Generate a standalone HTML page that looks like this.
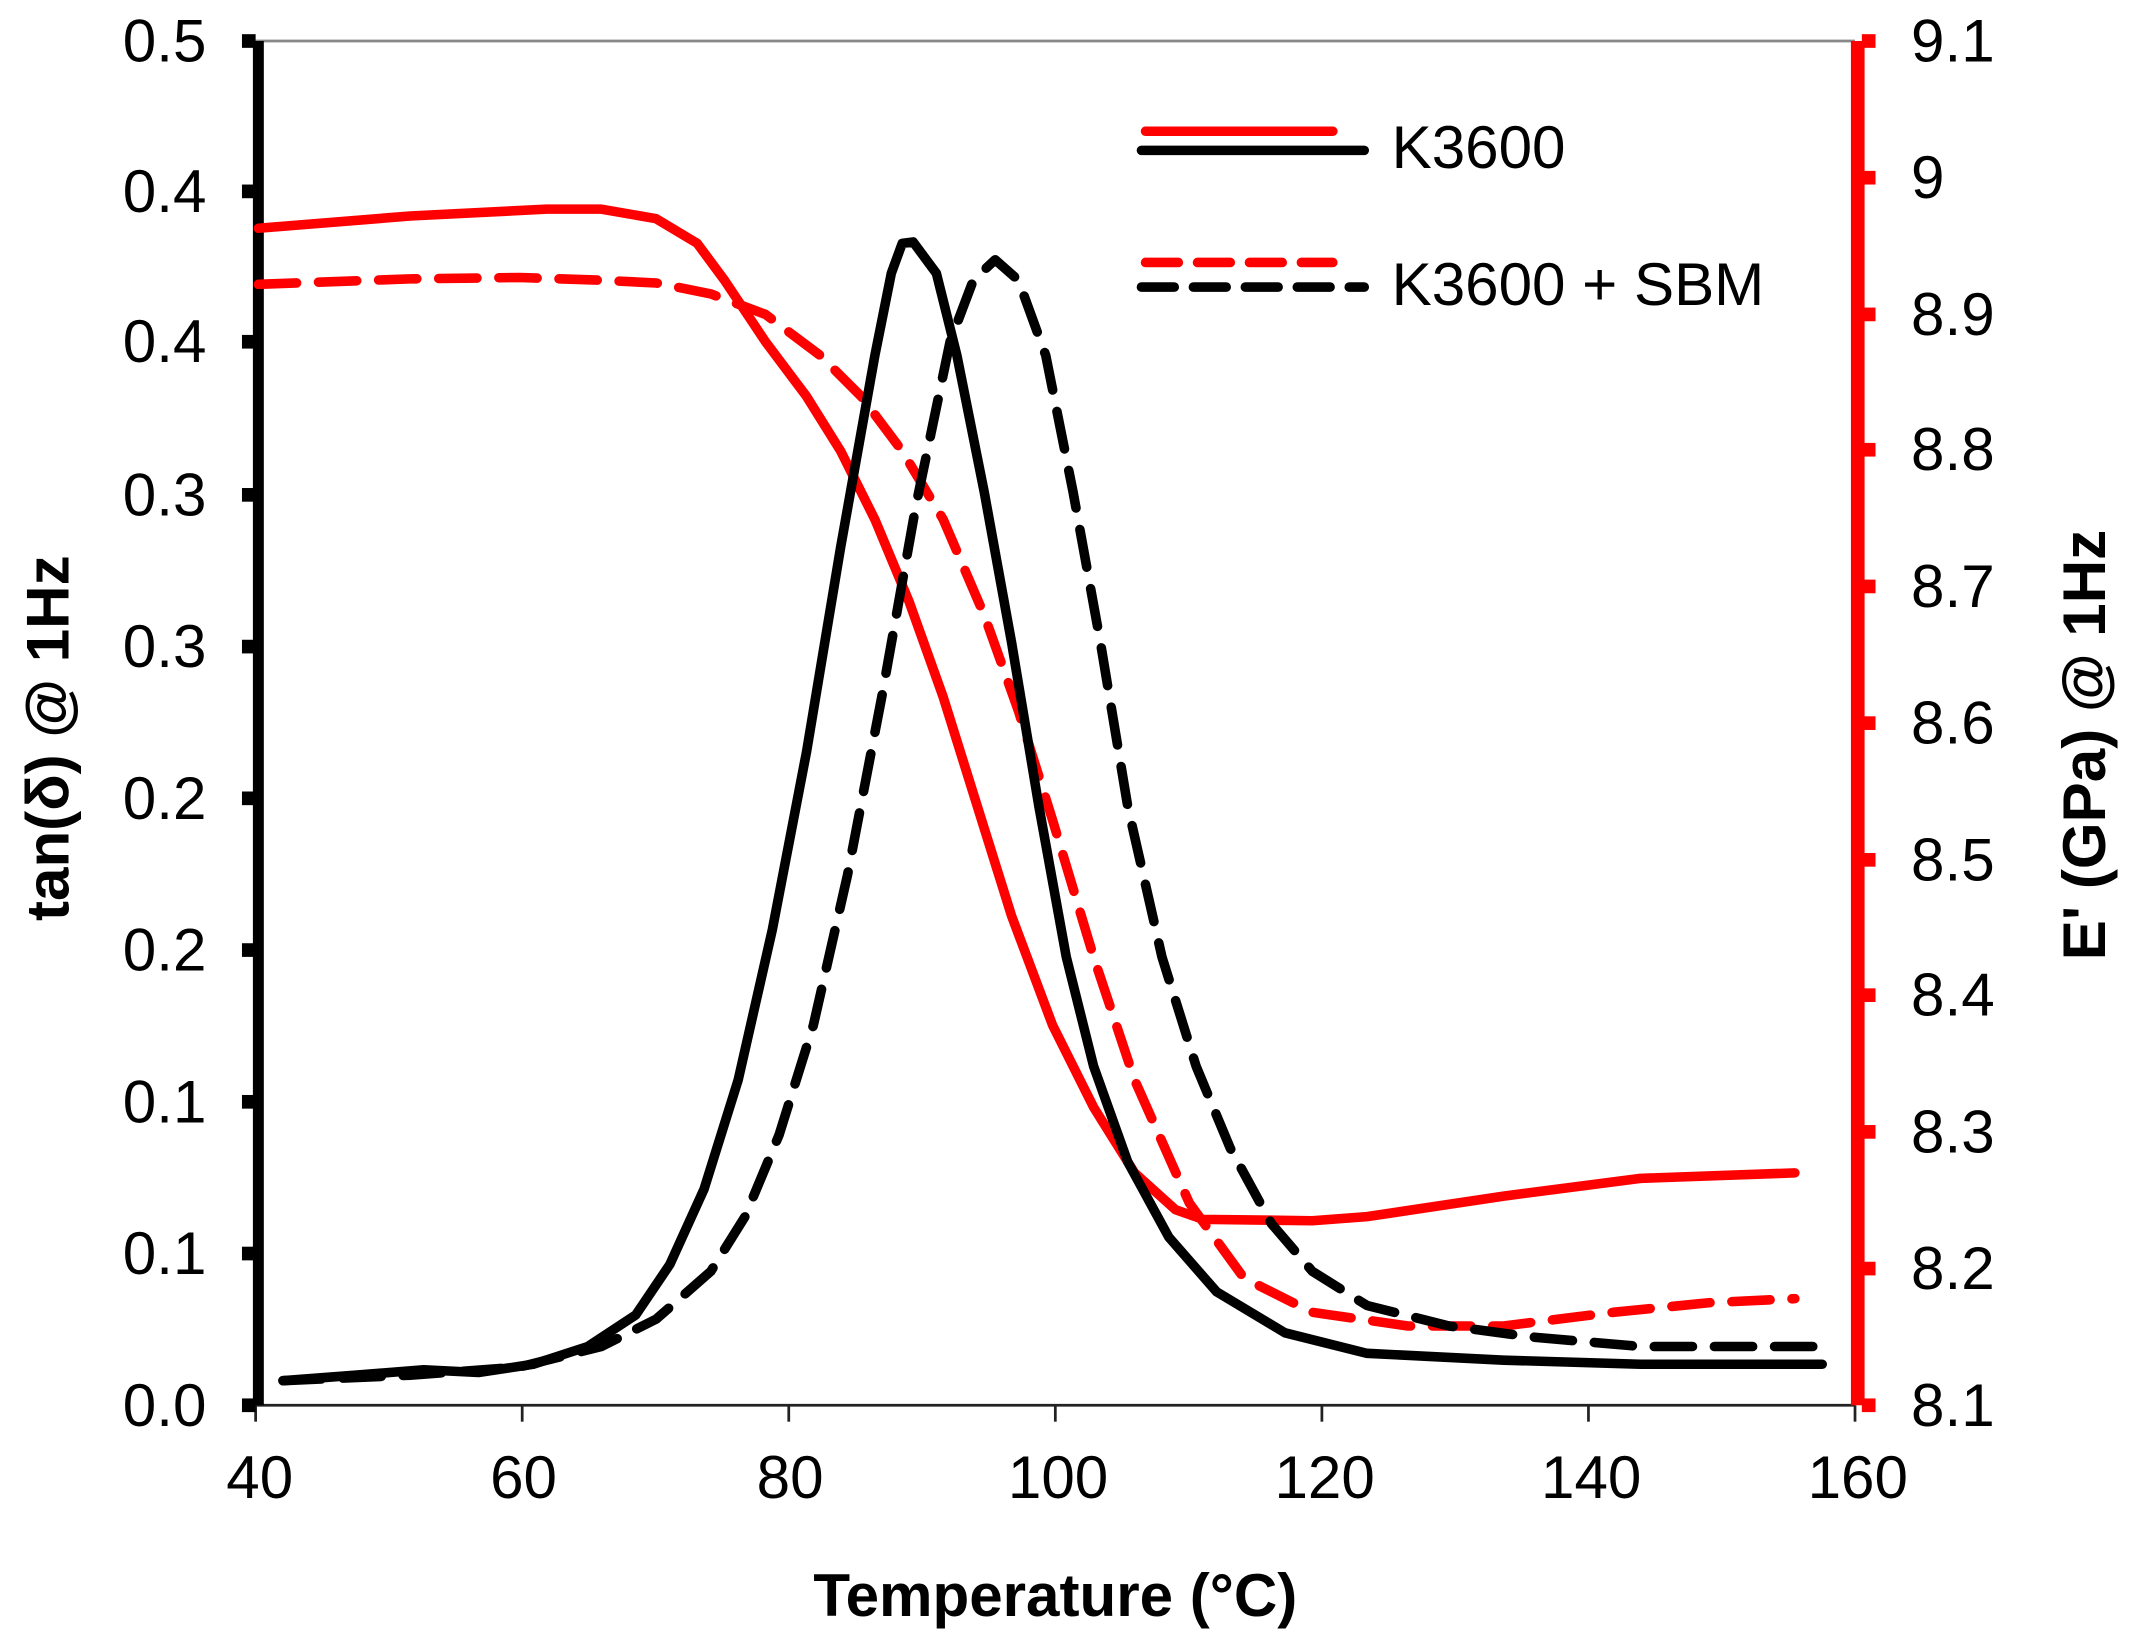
<!DOCTYPE html>
<html><head><meta charset="utf-8"><style>html,body{margin:0;padding:0;background:#fff}svg{display:block}</style></head>
<body>
<svg width="2136" height="1641" viewBox="0 0 2136 1641" xmlns="http://www.w3.org/2000/svg">
<g transform="scale(1.367)" font-family="Liberation Sans, Arial, sans-serif">
<rect x="0" y="0" width="1563" height="1201" fill="#fff"/>
<line x1="187" y1="30" x2="1357" y2="30" stroke="#888" stroke-width="2"/>
<line x1="187" y1="1028" x2="1357" y2="1028" stroke="#222" stroke-width="2"/>
<g stroke="#222" stroke-width="2">
<line x1="187" y1="1028" x2="187" y2="1040"/><line x1="382" y1="1028" x2="382" y2="1040"/>
<line x1="577" y1="1028" x2="577" y2="1040"/><line x1="772" y1="1028" x2="772" y2="1040"/>
<line x1="967" y1="1028" x2="967" y2="1040"/><line x1="1162" y1="1028" x2="1162" y2="1040"/>
<line x1="1357" y1="1028" x2="1357" y2="1040"/>
</g>
<line x1="189" y1="30" x2="189" y2="1028" stroke="#000" stroke-width="8"/>
<g fill="#000">
<rect x="177" y="25" width="10" height="10"/><rect x="177" y="135" width="10" height="10"/>
<rect x="177" y="245" width="10" height="10"/><rect x="177" y="357" width="10" height="10"/>
<rect x="177" y="468" width="10" height="10"/><rect x="177" y="579" width="10" height="10"/>
<rect x="177" y="690" width="10" height="10"/><rect x="177" y="801" width="10" height="10"/>
<rect x="177" y="912" width="10" height="10"/><rect x="177" y="1023" width="10" height="10"/>
</g>
<line x1="1359" y1="30" x2="1359" y2="1028" stroke="#f00" stroke-width="10"/>
<g fill="#f00">
<rect x="1362" y="25" width="10" height="10"/><rect x="1362" y="125" width="10" height="10"/>
<rect x="1362" y="225" width="10" height="10"/><rect x="1362" y="324" width="10" height="10"/>
<rect x="1362" y="424" width="10" height="10"/><rect x="1362" y="524" width="10" height="10"/>
<rect x="1362" y="624" width="10" height="10"/><rect x="1362" y="723" width="10" height="10"/>
<rect x="1362" y="823" width="10" height="10"/><rect x="1362" y="923" width="10" height="10"/>
<rect x="1362" y="1023" width="10" height="10"/>
</g>
<g font-size="44" fill="#000" text-anchor="end">
<text x="151" y="45">0.5</text><text x="151" y="155">0.4</text><text x="151" y="265">0.4</text>
<text x="151" y="377">0.3</text><text x="151" y="488">0.3</text><text x="151" y="599">0.2</text>
<text x="151" y="710">0.2</text><text x="151" y="821">0.1</text><text x="151" y="932">0.1</text>
<text x="151" y="1043">0.0</text>
</g>
<g font-size="44" fill="#000">
<text x="1398" y="45">9.1</text><text x="1398" y="145">9</text><text x="1398" y="245">8.9</text>
<text x="1398" y="344">8.8</text><text x="1398" y="444">8.7</text><text x="1398" y="544">8.6</text>
<text x="1398" y="644">8.5</text><text x="1398" y="743">8.4</text><text x="1398" y="843">8.3</text>
<text x="1398" y="943">8.2</text><text x="1398" y="1043">8.1</text>
</g>
<g font-size="44" fill="#000" text-anchor="middle">
<text x="190" y="1096">40</text><text x="383" y="1096">60</text><text x="578" y="1096">80</text>
<text x="774" y="1096">100</text><text x="969" y="1096">120</text><text x="1164" y="1096">140</text>
<text x="1359" y="1096">160</text>
</g>
<text x="772" y="1182" font-size="44" font-weight="bold" text-anchor="middle" fill="#000">Temperature (°C)</text>
<text transform="translate(50,540) rotate(-90)" font-size="44" font-weight="bold" text-anchor="middle" fill="#000">tan(δ) @ 1Hz</text>
<text transform="translate(1540,545) rotate(-90)" font-size="44" font-weight="bold" text-anchor="middle" fill="#000">E' (GPa) @ 1Hz</text>
<g fill="none" stroke-linejoin="round" stroke-linecap="round" stroke-width="7">
<polyline stroke="#f00" points="189,167 300,158 400,153 440,153 480,160 510,178 530,205 560,250 590,290 615,330 640,380 665,440 690,510 715,590 740,670 770,750 800,810 830,858 860,885 880,892 960,893 1000,890 1100,875 1200,862 1313,858"/>
<polyline stroke="#f00" stroke-dasharray="28,16" points="189,208 300,204 380,203 440,205 480,207 520,215 560,230 600,260 630,290 660,330 690,380 720,450 745,520 770,600 800,700 830,790 870,880 910,935 960,960 1030,970 1100,970 1180,960 1250,953 1313,950"/>
<polyline stroke="#000" points="207,1010 260,1006 310,1002 350,1004 390,998 430,985 465,962 490,925 515,870 540,790 565,680 590,550 615,400 640,260 652,200 660,178 668,177 685,200 700,260 720,360 740,470 760,590 780,700 800,780 825,850 855,905 890,945 940,975 1000,990 1100,995 1200,998 1333,998"/>
<polyline stroke="#000" stroke-dasharray="28,16" points="207,1010 300,1006 380,1000 440,985 480,965 520,930 545,890 570,830 595,750 620,640 645,510 670,370 695,250 712,205 728,190 745,205 765,260 785,360 805,470 825,590 850,700 875,780 900,840 930,895 960,930 1000,955 1060,970 1120,978 1200,985 1333,985"/>
</g>
<g stroke-width="7" stroke-linecap="round">
<line x1="838" y1="96" x2="975" y2="96" stroke="#f00"/>
<line x1="835" y1="110" x2="998" y2="110" stroke="#000"/>
<line x1="838" y1="192" x2="975" y2="192" stroke="#f00" stroke-dasharray="24,14"/>
<line x1="835" y1="210" x2="998" y2="210" stroke="#000" stroke-dasharray="24,14"/>
</g>
<g font-size="44" fill="#000">
<text x="1018" y="123">K3600</text>
<text x="1018" y="223">K3600 + SBM</text>
</g>
</g>
</svg>
</body></html>
